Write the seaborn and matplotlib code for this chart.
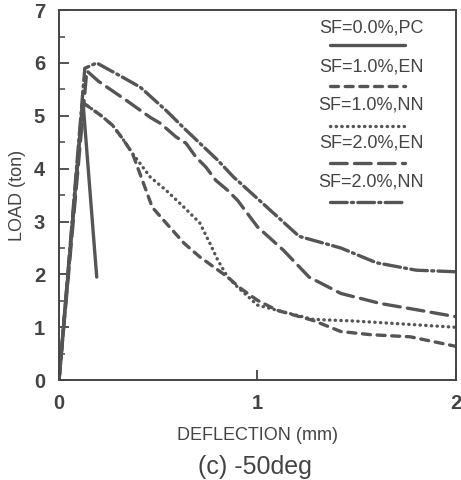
# load_deflection_m50.py
# Load vs deflection curves for the -50deg specimens (SF content / fibre type).

import matplotlib
matplotlib.use("Agg")
import matplotlib.pyplot as plt
import seaborn as sns
from matplotlib.ticker import MultipleLocator

sns.set_style("ticks")
plt.rcParams["font.family"] = ["Liberation Sans", "DejaVu Sans"]

# Data (deflection in mm, load in ton)
pc_x = [0, 0.12, 0.19]
pc_y = [0, 5.3, 1.95]

en1_x = [0, 0.12, 0.21, 0.27, 0.32, 0.37, 0.42, 0.47, 0.54, 0.63, 0.71, 0.78, 0.85, 0.91, 1.0, 1.1, 1.28, 1.42, 1.57, 1.77, 2.0]
en1_y = [0, 5.25, 5.01, 4.82, 4.57, 4.29, 3.78, 3.27, 2.97, 2.59, 2.33, 2.14, 1.95, 1.75, 1.51, 1.32, 1.13, 0.92, 0.86, 0.82, 0.64]

nn1_x = [0, 0.12, 0.21, 0.27, 0.32, 0.37, 0.46, 0.54, 0.63, 0.71, 0.76, 0.8, 0.85, 0.9, 1.0, 1.1, 1.28, 1.48, 1.7, 2.0]
nn1_y = [0, 5.25, 5.01, 4.82, 4.57, 4.29, 3.84, 3.59, 3.27, 2.97, 2.59, 2.27, 1.95, 1.76, 1.42, 1.32, 1.15, 1.12, 1.07, 1.0]

en2_x = [0, 0.14, 0.2, 0.34, 0.46, 0.51, 0.59, 0.64, 0.69, 0.74, 0.79, 0.85, 0.9, 1.0, 1.13, 1.26, 1.42, 1.62, 1.82, 2.0]
en2_y = [0, 5.85, 5.65, 5.29, 4.97, 4.86, 4.6, 4.48, 4.22, 4.03, 3.78, 3.59, 3.4, 2.9, 2.46, 1.95, 1.64, 1.45, 1.32, 1.2]

nn2_x = [0, 0.13, 0.19, 0.33, 0.41, 0.54, 0.64, 0.71, 0.8, 0.88, 0.91, 1.01, 1.21, 1.42, 1.6, 1.8, 2.0]
nn2_y = [0, 5.9, 6.0, 5.71, 5.54, 5.1, 4.73, 4.48, 4.16, 3.84, 3.74, 3.4, 2.72, 2.5, 2.22, 2.08, 2.05]

labels = ["SF=0.0%,PC", "SF=1.0%,EN", "SF=1.0%,NN", "SF=2.0%,EN", "SF=2.0%,NN"]
styles = [
    "-",
    (0, (2.4, 2.0)),
    (0, (0.1, 1.6)),
    (0, (5.0, 2.2)),
    (0, (5.0, 1.3, 0.6, 1.3)),
]
series = [(pc_x, pc_y), (en1_x, en1_y), (nn1_x, nn1_y), (en2_x, en2_y), (nn2_x, nn2_y)]

ink = "#555555"
txt = "#444444"

fig = plt.figure(figsize=(4.61, 4.80), dpi=100)
ax = fig.add_axes([0.128, 0.208, 0.861, 0.771])

for (xs, ys), ls in zip(series, styles):
    sns.lineplot(x=xs, y=ys, ax=ax, color=ink, lw=2.4, linestyle=ls,
                 estimator=None, sort=False, dash_capstyle="round")

ax.set_xlim(0, 2)
ax.set_ylim(0, 7)
ax.xaxis.set_major_locator(MultipleLocator(1))
ax.yaxis.set_major_locator(MultipleLocator(1))
ax.yaxis.set_minor_locator(MultipleLocator(0.5))
ax.tick_params(direction="in", length=7, width=1.3, colors=txt,
               labelsize=14.5, pad=10)
ax.tick_params(which="minor", direction="in", length=4, width=1.1, colors=txt)
for lbl in ax.get_xticklabels() + ax.get_yticklabels():
    lbl.set_fontweight("bold")
for sp in ax.spines.values():
    sp.set_linewidth(1.4)
    sp.set_color(txt)

ax.set_xlabel("DEFLECTION (mm)", fontsize=13, color=txt, labelpad=10)
ax.set_ylabel("LOAD (ton)", fontsize=13, color=txt, labelpad=6)
fig.text(0.552, 0.027, "(c) -50deg", fontsize=18, color=txt,
         ha="center", va="center")

# Hand-made legend: label text with a line sample beneath it
text_y = [0.951, 0.846, 0.743, 0.641, 0.535]
line_y = [0.905, 0.795, 0.688, 0.586, 0.481]
for lab, ls, ty, ly in zip(labels, styles, text_y, line_y):
    ax.text(0.786, ty, lab, transform=ax.transAxes, ha="center", va="center",
            fontsize=13, color=txt)
    ax.plot([0.683, 0.872], [ly, ly], transform=ax.transAxes, color=ink,
            lw=2.4, linestyle=ls, dash_capstyle="round")

fig.savefig("out.png", dpi=100)
